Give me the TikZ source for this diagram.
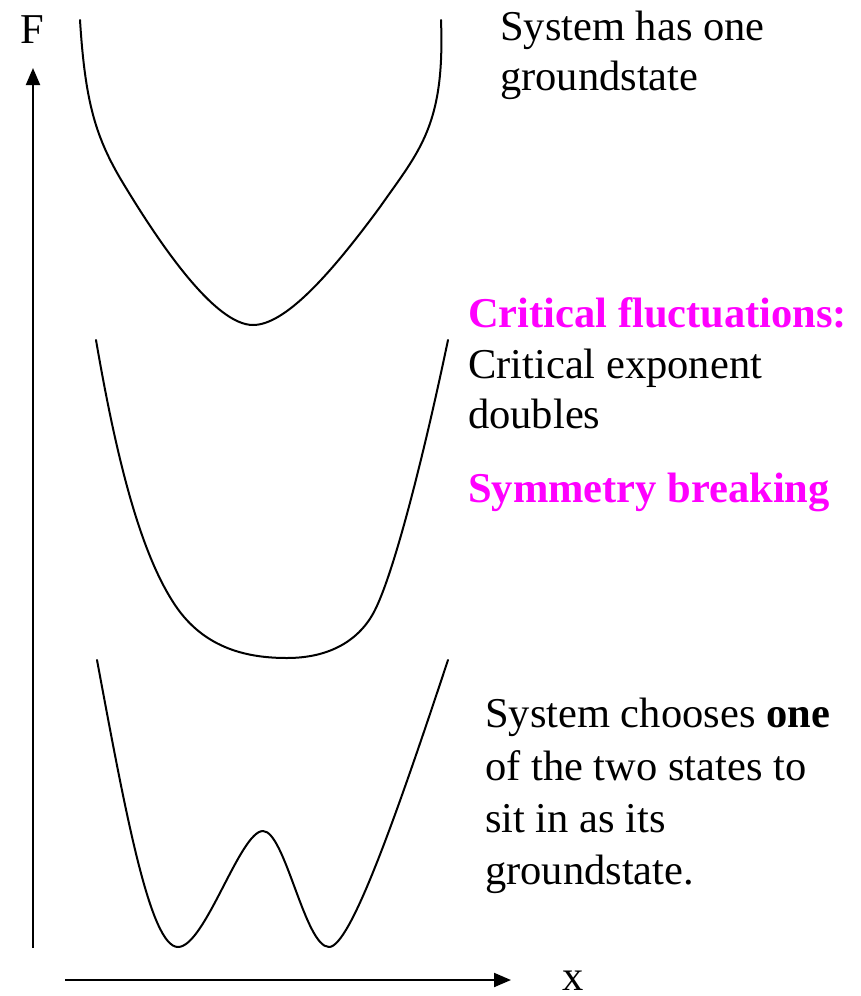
\documentclass[tikz,border=0pt]{standalone}
\usepackage{fontspec}
\setmainfont{Liberation Serif}
\usetikzlibrary{arrows.meta}
\definecolor{hotmag}{RGB}{255,0,255}
\tikzset{
  curve/.style={line width=2pt, line join=round, line cap=round},
  axis/.style={line width=2pt, -{Triangle[length=17pt,width=14pt]}},
  txt/.style={anchor=base west, inner sep=0pt, font=\fontsize{42.5}{52}\selectfont},
  hl/.style={txt, text=hotmag, font=\fontsize{42.5}{52}\selectfont\bfseries}
}
\begin{document}
\begin{tikzpicture}[x=1pt,y=-1pt]
\useasboundingbox (0,0) rectangle (861,996);
% axes
\coordinate (yo) at (33,948);
\coordinate (yt) at (33,68);
\coordinate (xo) at (65,980);
\coordinate (xt) at (511,980);
\draw[axis] (yo) -- (yt);
\draw[axis] (xo) -- (xt);
\node[anchor=base, inner sep=0pt, font=\fontsize{42.5}{52}\selectfont] (F) at (32,43) {F};
\node[anchor=base, inner sep=0pt, font=\fontsize{42.5}{52}\selectfont] (X) at (573,990) {x};
% top curve: single well
\draw[curve] (80,20) .. controls (85,100) and (95,135) .. (120,178)
  .. controls (160,245) and (215,325) .. (253,325)
  .. controls (285,325) and (330,275) .. (380,207)
  .. controls (420,150) and (445,125) .. (441,20);
% middle curve: flat well
\draw[curve] (96,340) .. controls (120,480) and (145,560) .. (175,605)
  .. controls (205,650) and (250,658) .. (287,658)
  .. controls (330,658) and (360,640) .. (375,610)
  .. controls (395,570) and (425,450) .. (448,340);
% bottom curve: double well
\draw[curve] (97,660) .. controls (125,810) and (150,947) .. (178,947)
  .. controls (205,947) and (240,831) .. (263,831)
  .. controls (285,831) and (305,947) .. (329,947)
  .. controls (350,947) and (395,820) .. (448,660);
% texts
\node[txt] (t1a) at (500,40) {System has one};
\node[txt] (t1b) at (500,90) {groundstate};
\node[hl] (t2a) at (468,327) {Critical fluctuations:};
\node[txt] (t2b) at (468,378) {Critical exponent};
\node[txt] (t2c) at (468,428) {doubles};
\node[hl] (t3a) at (468,502) {Symmetry breaking};
\node[txt] (t4a) at (485,727) {System chooses \textbf{one}};
\node[txt] (t4b) at (485,780) {of the two states to};
\node[txt] (t4c) at (485,832) {sit in as its};
\node[txt] (t4d) at (485,884) {groundstate.};
\end{tikzpicture}
\end{document}
